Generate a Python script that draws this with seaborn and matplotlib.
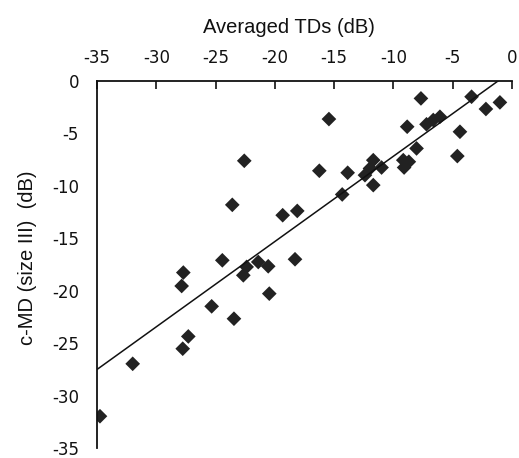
import matplotlib
matplotlib.use("Agg")
import matplotlib.pyplot as plt
import seaborn as sns
import pandas as pd

# averaged TDs (x) and c-MD size III (y)
averaged_td = [-34.75, -31.99, -27.77, -27.3, -27.86, -27.72, -25.33, -24.43,
               -23.45, -22.66, -22.38, -21.4, -20.56, -20.47, -18.3, -23.59,
               -22.58, -19.34, -18.11, -15.44, -16.25, -13.86, -14.32, -11.7,
               -11.98, -12.4, -11.7, -11.0, -9.17, -8.7, -9.1, -8.05,
               -8.84, -7.68, -7.21, -6.64, -6.08, -4.39, -4.61, -3.41,
               -2.2, -1.02]
c_md = [-31.97, -26.97, -25.53, -24.36, -19.55, -18.27, -21.49, -17.1,
        -22.67, -18.53, -17.73, -17.26, -17.67, -20.28, -17.0, -11.81,
        -7.61, -12.8, -12.39, -3.63, -8.56, -8.75, -10.82, -7.55,
        -8.34, -8.98, -9.93, -8.25, -7.55, -7.7, -8.25, -6.43,
        -4.36, -1.66, -4.13, -3.72, -3.41, -4.84, -7.16, -1.5,
        -2.67, -2.04]

x_ticks = [-35, -30, -25, -20, -15, -10, -5, 0]
y_ticks = [0, -5, -10, -15, -20, -25, -30, -35]

df = pd.DataFrame({"td": averaged_td, "cmd": c_md})

sns.set_style("white")
plt.rcParams["font.family"] = ["DejaVu Sans"]
plt.rcParams["axes.unicode_minus"] = False

fig = plt.figure(figsize=(5.19, 4.58), dpi=100)
ax = fig.add_axes([97 / 519, 1 - 448 / 458, 415 / 519, 367 / 458])

sns.regplot(data=df, x="td", y="cmd", ax=ax, ci=None, truncate=False,
            marker="D",
            scatter_kws={"s": 56, "color": "#222222", "edgecolor": "none", "alpha": 1},
            line_kws={"color": "#111111", "linewidth": 1.1})

ax.set_xlim(-35, 0)
ax.set_ylim(-35, 0)
ax.set_xticks(x_ticks)
ax.set_yticks(y_ticks)
ax.xaxis.tick_top()
ax.xaxis.set_label_position("top")
ax.tick_params(axis="x", direction="in", length=6, width=1.2, pad=10, labelsize=12, colors="#111111")
ax.tick_params(axis="y", direction="out", length=5, width=1.2, pad=8, labelsize=12, colors="#111111")

label_font = {"family": ["Liberation Sans", "DejaVu Sans"], "size": 14.5, "color": "#111111"}
ax.set_xlabel("Averaged TDs (dB)", fontdict=label_font)
ax.set_ylabel("c-MD (size III)  (dB)", fontdict=label_font)
ax.xaxis.set_label_coords(0.462, 1.145)
ax.xaxis.label.set_va("center")
ax.yaxis.set_label_coords(-0.168, 0.518)
ax.yaxis.label.set_va("center")

for side in ["right", "bottom"]:
    ax.spines[side].set_visible(False)
for side in ["top", "left"]:
    ax.spines[side].set_linewidth(1.3)
    ax.spines[side].set_color("#111111")

fig.savefig("out.png", dpi=100)
